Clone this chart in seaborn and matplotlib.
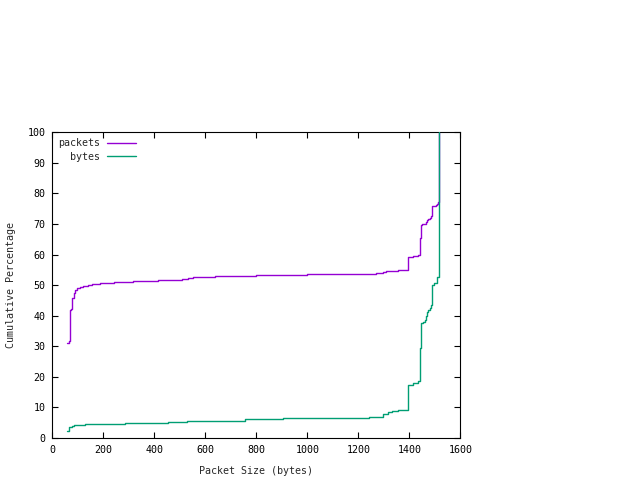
import numpy as np
import pandas as pd
import matplotlib
matplotlib.use("Agg")
import matplotlib.pyplot as plt
import seaborn as sns

# packet size (bytes) -> cumulative percentage
pkt_size = [59, 65, 68, 73, 76, 78.5, 86, 90, 96, 109, 122, 141, 154, 187, 242, 315,
            416, 507, 531, 553, 638, 800, 1000, 1269, 1298, 1310, 1357, 1396, 1416,
            1435, 1443, 1446, 1449, 1465, 1471, 1475, 1480, 1485, 1490, 1505, 1510,
            1513, 1518]
pkt_pct = [31.0, 31.8, 41.8, 42.3, 43.5, 45.7, 47.3, 48.4, 49.0, 49.3, 49.6, 49.9, 50.3,
           50.6, 51.0, 51.3, 51.7, 52.0, 52.3, 52.6, 52.9, 53.2, 53.5, 53.9, 54.3, 54.6,
           54.8, 59.1, 59.4, 59.9, 65.3, 69.7, 69.9, 70.8, 71.3, 71.6, 72.1, 72.7, 75.9,
           76.2, 76.6, 77.1, 100.0]

byte_size = [59, 65, 76, 86, 128, 285, 455, 527, 566, 756, 906, 1057, 1243, 1298, 1318,
             1331, 1357, 1396, 1407, 1416, 1435, 1443, 1446, 1455, 1460, 1465, 1471, 1475,
             1480, 1485, 1489, 1495, 1507, 1518]
byte_pct = [2.4, 3.5, 3.9, 4.2, 4.5, 4.8, 5.1, 5.4, 5.7, 6.1, 6.4, 6.7, 7.0, 8.0, 8.4,
            8.7, 9.0, 17.2, 17.5, 17.9, 18.7, 29.3, 37.7, 38.0, 38.5, 40.0, 41.3, 41.8,
            42.6, 43.5, 50.0, 50.6, 52.6, 100.0]

df = pd.concat([
    pd.DataFrame({"size": pkt_size, "pct": pkt_pct, "series": "packets"}),
    pd.DataFrame({"size": byte_size, "pct": byte_pct, "series": "bytes"}),
])

sns.set_style("ticks")
plt.rcParams["font.family"] = ["DejaVu Sans Mono"]
plt.rcParams["font.size"] = 7.2

fig = plt.figure(figsize=(6.4, 4.8), dpi=100)
ax = fig.add_axes([52.3 / 640, 1 - 438 / 480, 408 / 640, (438 - 132.3) / 480])

sns.lineplot(data=df, x="size", y="pct", hue="series", hue_order=["packets", "bytes"],
             estimator=None, sort=False, drawstyle="steps-post", linewidth=1,
             palette={"packets": "#9400d3", "bytes": "#009e73"}, ax=ax)

# bytes curve sits on top, as gnuplot draws it last
for ln in ax.lines:
    if ln.get_label() == "bytes" or matplotlib.colors.to_hex(ln.get_color()) == "#009e73":
        ln.set_zorder(3)

ax.set_xlim(0, 1600)
ax.set_ylim(0, 100)
ax.set_xticks(np.arange(0, 1601, 200))
ax.set_yticks(np.arange(0, 101, 10))
ax.tick_params(direction="in", length=4, width=0.8, top=True, right=True,
               labelsize=7.2, colors="black", pad=5)
for s in ax.spines.values():
    s.set_visible(True)
    s.set_linewidth(0.8)
    s.set_color("black")

ax.set_xlabel("Packet Size (bytes)", fontsize=7.2, labelpad=8)
ax.set_ylabel("Cumulative Percentage", fontsize=7.2, labelpad=8)

leg = ax.legend(loc="upper left", frameon=False, markerfirst=False, fontsize=7.2,
                handlelength=2.9, handletextpad=0.65, borderaxespad=0.2,
                labelspacing=0.35, title=None)
leg._legend_box._children[-1]._children[0].align = "right"

fig.savefig("out.png", dpi=100)
